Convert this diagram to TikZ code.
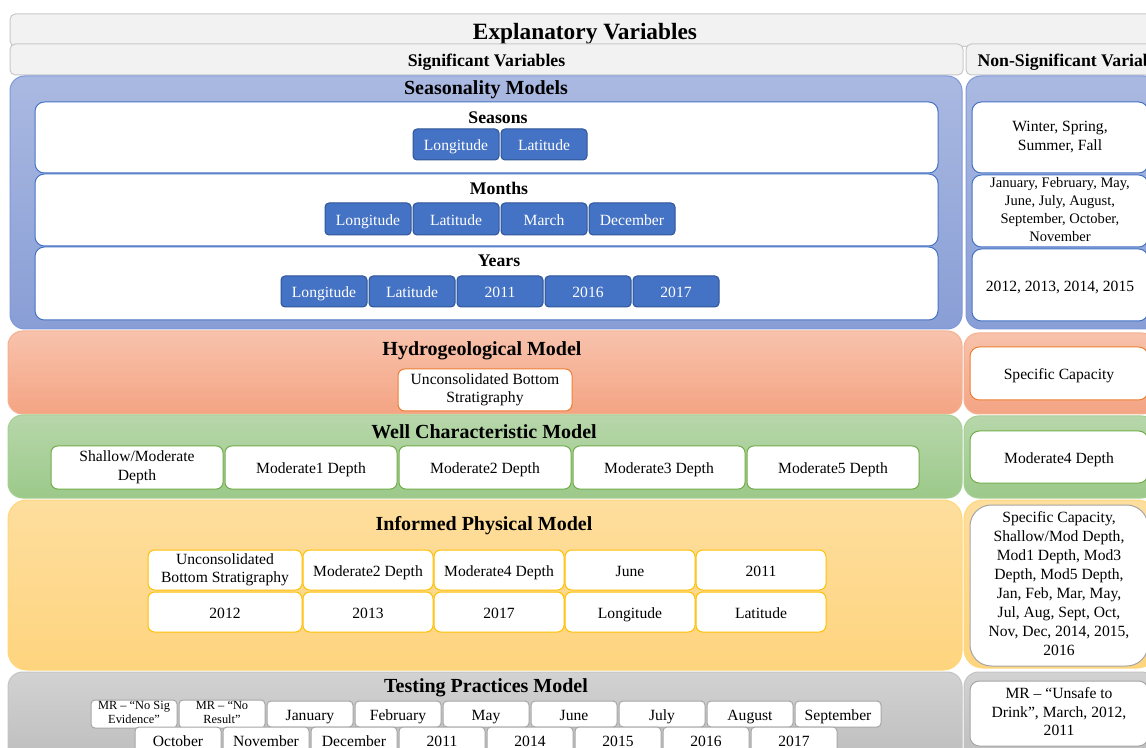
\documentclass[tikz,border=0pt]{standalone}
\usepackage{fontspec}
\setmainfont{Liberation Serif}
\usetikzlibrary{positioning}

\definecolor{barFill}{HTML}{F2F2F2}
\definecolor{barLine}{HTML}{C9C9C9}
\definecolor{blueTop}{HTML}{AAB9E1}
\definecolor{blueBot}{HTML}{899ED6}
\definecolor{blueLine}{HTML}{7E98D8}
\definecolor{blueCard}{HTML}{4472C4}
\definecolor{chipLine}{HTML}{2F5597}
\definecolor{orangeTop}{HTML}{F8C2AC}
\definecolor{orangeBot}{HTML}{F4A483}
\definecolor{orangeLine}{HTML}{F4B08F}
\definecolor{orangeCard}{HTML}{ED7D31}
\definecolor{greenTop}{HTML}{B7D7AA}
\definecolor{greenBot}{HTML}{9CC98A}
\definecolor{greenLine}{HTML}{A6CF96}
\definecolor{greenCard}{HTML}{70AD47}
\definecolor{yellowTop}{HTML}{FEDE9E}
\definecolor{yellowBot}{HTML}{FED47E}
\definecolor{yellowLine}{HTML}{FFD87A}
\definecolor{yellowCard}{HTML}{FFC000}
\definecolor{grayTop}{HTML}{D2D2D2}
\definecolor{grayBot}{HTML}{BDBDBD}
\definecolor{grayLine}{HTML}{C4C4C4}
\definecolor{grayCard}{HTML}{A5A5A5}

\newcommand{\txttop}{\bfseries\fontsize{17.5}{20}\selectfont}
\newcommand{\txtsec}{\bfseries\fontsize{15}{17}\selectfont}
\newcommand{\txtsub}{\bfseries\fontsize{13.3}{15}\selectfont}
\newcommand{\txtbody}{\fontsize{11.7}{14}\selectfont}
\newcommand{\txtsmall}{\fontsize{9.3}{10.5}\selectfont}
\newcommand{\cstrut}{\rule[-0.25em]{0pt}{1.27em}}
\newcommand{\mstrut}{\rule[-0.25em]{0pt}{1.65em}}
\newcommand{\bstrut}{\rule[-0.25em]{0pt}{1.01em}}
\newcommand{\tstrut}{\rule[-0.25em]{0pt}{0.84em}}

\begin{document}
\begin{tikzpicture}[x=0.75pt, y=-0.75pt,
  sz/.style 2 args={minimum width=#1*0.75pt, minimum height=#2*0.75pt, anchor=north west, inner sep=1pt, outer sep=0pt, align=center,
    execute at begin node=\cstrut, execute at end node=\cstrut},
  multi/.style={execute at begin node=\mstrut},
  bar/.style={draw=barLine, fill=barFill, line width=0.75pt, rounded corners=4pt,
    execute at begin node=\bstrut, execute at end node=\bstrut},
  panel/.style={draw=#1Line, top color=#1Top, bottom color=#1Bot, line width=0.75pt, rounded corners=11pt},
  card/.style={draw=#1Card, fill=white, line width=0.75pt, rounded corners=7pt, font=\txtbody},
  chip/.style={draw=chipLine, fill=blueCard, text=white, line width=0.75pt, rounded corners=3pt, font=\txtbody},
  gchip/.style={draw=grayCard, fill=white, line width=0.75pt, rounded corners=3pt, font=\txtbody},
  sechead/.style={font=\txtsec, inner sep=0pt},
  subhead/.style={font=\txtsub, inner sep=0pt}]
\clip (0,0) rectangle (1146,748);
\fill[white] (0,0) rectangle (1146,748);

\node[sz={1150}{29}, bar, font=\txttop, execute at begin node=\tstrut, execute at end node=\tstrut] (hdr) at (10,14) {Explanatory Variables};
\node[sz={953}{31}, bar, font=\txtsub] (sig) at (10,44) {Significant Variables};
\node[sz={218}{31}, bar, font=\txtsub] (nonsig) at (966,44) {Non-Significant Variables};

\node[panel=blue, sz={952}{253}] (seas) at (10,76) {};
\node[panel=blue, sz={192}{253}] (seasR) at (966,76) {};
\node[sechead] (seasT) at (486,89.5) {Seasonality Models};

\node[card=blue, sz={903}{71}] (seasons) at (35,102) {};
\node[subhead] (seasonsT) at (498,118) {Seasons};
\node[chip, sz={86}{31}] (s1) at (413,129) {Longitude};
\node[chip, sz={86}{31}, right=1.5pt of s1] (s2) {Latitude};

\node[card=blue, sz={903}{72}] (months) at (35,174) {};
\node[subhead] (monthsT) at (499,188) {Months};
\node[chip, sz={86}{32}] (m1) at (325,203) {Longitude};
\node[chip, sz={86}{32}, right=1.5pt of m1] (m2) {Latitude};
\node[chip, sz={86}{32}, right=1.5pt of m2] (m3) {March};
\node[chip, sz={86}{32}, right=1.5pt of m3] (m4) {December};

\node[card=blue, sz={903}{73}] (years) at (35,247) {};
\node[subhead] (yearsT) at (499,261) {Years};
\node[chip, sz={86}{31}] (y1) at (281,276) {Longitude};
\node[chip, sz={86}{31}, right=1.5pt of y1] (y2) {Latitude};
\node[chip, sz={86}{31}, right=1.5pt of y2] (y3) {2011};
\node[chip, sz={86}{31}, right=1.5pt of y3] (y4) {2016};
\node[chip, sz={86}{31}, right=1.5pt of y4] (y5) {2017};

\node[card=blue, sz={176}{71}, multi, font=\fontsize{11.7}{14.2}\selectfont] (seasonsN) at (972,102) {Winter, Spring,\\Summer, Fall};
\node[card=blue, sz={176}{72}, multi, font=\fontsize{10.9}{13.5}\selectfont] (monthsN) at (972,175) {January, February, May,\\June, July, August,\\September, October,\\November};
\node[card=blue, sz={176}{72}] (yearsN) at (972,249) {2012, 2013, 2014, 2015};

\node[panel=orange, sz={954}{83}] (hydro) at (8,331) {};
\node[panel=orange, sz={192}{81}] (hydroR) at (964,333) {};
\node[sechead] (hydroT) at (482,351) {Hydrogeological Model};
\node[card=orange, sz={174}{42}, multi, rounded corners=5pt] (h1) at (398,369) {Unconsolidated Bottom\\Stratigraphy};
\node[card=orange, sz={178}{53}] (hydroN) at (970,347) {Specific Capacity};

\node[panel=green, sz={954}{83}] (well) at (8,415) {};
\node[panel=green, sz={192}{82}] (wellR) at (964,416) {};
\node[sechead] (wellT) at (484,432) {Well Characteristic Model};
\node[card=green, sz={172}{43}, multi, rounded corners=5pt] (w1) at (51,446) {Shallow/Moderate\\Depth};
\node[card=green, sz={172}{43}, rounded corners=5pt, right=1.5pt of w1] (w2) {Moderate1 Depth};
\node[card=green, sz={172}{43}, rounded corners=5pt, right=1.5pt of w2] (w3) {Moderate2 Depth};
\node[card=green, sz={172}{43}, rounded corners=5pt, right=1.5pt of w3] (w4) {Moderate3 Depth};
\node[card=green, sz={172}{43}, rounded corners=5pt, right=1.5pt of w4] (w5) {Moderate5 Depth};
\node[card=green, sz={178}{52}] (wellN) at (970,431) {Moderate4 Depth};

\node[panel=yellow, sz={954}{170}, rounded corners=14pt] (phys) at (8,500) {};
\node[panel=yellow, sz={192}{168}, rounded corners=14pt] (physR) at (964,500) {};
\node[sechead] (physT) at (484,525.5) {Informed Physical Model};
\node[card=yellow, sz={154}{40}, multi, rounded corners=5pt] (p1) at (148,550) {Unconsolidated\\Bottom Stratigraphy};
\node[card=yellow, sz={130}{40}, rounded corners=5pt, right=0.75pt of p1] (p2) {Moderate2 Depth};
\node[card=yellow, sz={130}{40}, rounded corners=5pt, right=0.75pt of p2] (p3) {Moderate4 Depth};
\node[card=yellow, sz={130}{40}, rounded corners=5pt, right=0.75pt of p3] (p4) {June};
\node[card=yellow, sz={130}{40}, rounded corners=5pt, right=0.75pt of p4] (p5) {2011};
\node[card=yellow, sz={154}{40}, rounded corners=5pt] (q1) at (148,592) {2012};
\node[card=yellow, sz={130}{40}, rounded corners=5pt, right=0.75pt of q1] (q2) {2013};
\node[card=yellow, sz={130}{40}, rounded corners=5pt, right=0.75pt of q2] (q3) {2017};
\node[card=yellow, sz={130}{40}, rounded corners=5pt, right=0.75pt of q3] (q4) {Longitude};
\node[card=yellow, sz={130}{40}, rounded corners=5pt, right=0.75pt of q4] (q5) {Latitude};
\node[card=gray, sz={178}{161}, multi, rounded corners=16pt, font=\fontsize{11.7}{14.3}\selectfont] (physN) at (970,505) {Specific Capacity,\\Shallow/Mod Depth,\\Mod1 Depth, Mod3\\Depth, Mod5 Depth,\\Jan, Feb, Mar, May,\\Jul, Aug, Sept, Oct,\\Nov, Dec, 2014, 2015,\\2016};

\node[panel=gray, sz={954}{92}] (test) at (8,672) {};
\node[panel=gray, sz={192}{92}] (testR) at (964,672) {};
\node[sechead] (testT) at (486,688) {Testing Practices Model};
\node[gchip, sz={86}{26}, font=\txtsmall] (t1) at (91,700) {MR – “No Sig\\Evidence”};
\node[gchip, sz={86}{26}, font=\txtsmall, right=1.5pt of t1] (t2) {MR – “No\\Result”};
\node[gchip, sz={86}{26}, right=1.5pt of t2] (t3) {January};
\node[gchip, sz={86}{26}, right=1.5pt of t3] (t4) {February};
\node[gchip, sz={86}{26}, right=1.5pt of t4] (t5) {May};
\node[gchip, sz={86}{26}, right=1.5pt of t5] (t6) {June};
\node[gchip, sz={86}{26}, right=1.5pt of t6] (t7) {July};
\node[gchip, sz={86}{26}, right=1.5pt of t7] (t8) {August};
\node[gchip, sz={86}{26}, right=1.5pt of t8] (t9) {September};
\node[gchip, sz={86}{26}] (u1) at (135,727) {October};
\node[gchip, sz={86}{26}, right=1.5pt of u1] (u2) {November};
\node[gchip, sz={86}{26}, right=1.5pt of u2] (u3) {December};
\node[gchip, sz={86}{26}, right=1.5pt of u3] (u4) {2011};
\node[gchip, sz={86}{26}, right=1.5pt of u4] (u5) {2014};
\node[gchip, sz={86}{26}, right=1.5pt of u5] (u6) {2015};
\node[gchip, sz={86}{26}, right=1.5pt of u6] (u7) {2016};
\node[gchip, sz={86}{26}, right=1.5pt of u7] (u8) {2017};
\node[card=gray, sz={178}{65}, multi] (testN) at (970,681) {MR – “Unsafe to\\Drink”, March, 2012,\\2011};
\end{tikzpicture}
\end{document}
